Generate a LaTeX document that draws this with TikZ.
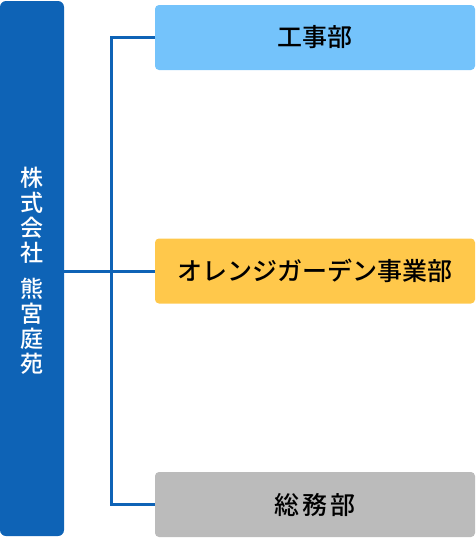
\documentclass[tikz,border=0pt]{standalone}
\usepackage{fontspec}
\setmainfont{Noto Sans CJK JP}
\newfontfamily\jpmed{Noto Sans CJK JP Medium}
\definecolor{corpblue}{HTML}{0E63B6}
\definecolor{deptblue}{HTML}{74C3FB}
\definecolor{deptorange}{HTML}{FFC84B}
\definecolor{deptgray}{HTML}{BBBBBB}
\begin{document}
\begin{tikzpicture}[x=1pt,y=-1pt,
  corp/.style={fill=corpblue,rounded corners=6pt,inner sep=0pt,minimum width=64pt,minimum height=535pt},
  corptxt/.style={text=white,align=center,inner sep=0pt,font=\jpmed\fontsize{23}{25}\selectfont},
  dept/.style={rounded corners=4pt,inner sep=0pt,minimum width=320pt,minimum height=65pt,text=black,font=\jpmed\fontsize{25}{28}\selectfont},
  link/.style={draw=corpblue,line width=3pt}]
\useasboundingbox (0,0) rectangle (476,538);
\node[corp] (corp) at (32,268.5) {};
\node[corptxt] (corptext) at (32,271) {株\\式\\会\\社\\[11pt]熊\\宮\\庭\\苑};
\node[dept,fill=deptblue] (top) at (315,37.5) {工事部};
\node[dept,fill=deptorange] (mid) at (315,271) {オレンジガーデン事業部};
\node[dept,fill=deptgray] (bot) at (315,504.5) {総\hspace{3pt}務\hspace{3pt}部};
\coordinate (j) at (111.5,271);
\draw[link] (corp.east |- mid.west) -- (mid.west);
\draw[link] (top.west) -- (top.west -| j) -- (bot.west -| j) -- (bot.west);
\end{tikzpicture}
\end{document}
